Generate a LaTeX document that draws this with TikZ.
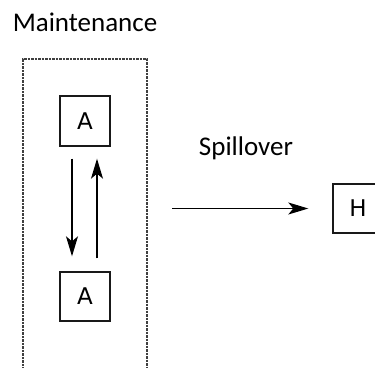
\documentclass[tikz,border=0pt]{standalone}
\usepackage{fontspec}
\setmainfont{Carlito}
\newfontfamily\boxfont{DejaVu Sans}
\usetikzlibrary{arrows.meta}
\begin{document}
\begin{tikzpicture}[x=1pt,y=-1pt,
  box/.style={draw=black!90,line width=1.4pt,minimum width=50pt,minimum height=50pt,inner sep=0pt,
    font=\boxfont\fontsize{23}{26}\selectfont},
  lbl/.style={font=\fontsize{27}{32}\selectfont,inner sep=0pt},
  arr/.style={line width=1.1pt,-{Stealth[length=20pt,width=12pt,inset=5pt]}},
  frame/.style={draw=black!75,line width=1.4pt,dash pattern=on 2.5pt off 1pt}]
\useasboundingbox (0,0) rectangle (375,367);
\clip (0,0) rectangle (375,367);
\node[lbl] (maint) at (85,22) {Maintenance};
\draw[frame] (23,380) -- (23,59) -- (147,59) -- (147,380);
\coordinate (frameR) at (147,208.5);
\node[box] (topA) at (85,121) {A};
\node[box,minimum height=49pt] (botA) at (85,296.5) {A};
\node[box,minimum height=49pt] (H) at (358,208.5) {H};
\node[lbl] (spill) at (246,148) {Spillover};
\draw[arr] ([xshift=-13pt,yshift=-12pt]topA.south) -- ([xshift=-13pt,yshift=15pt]botA.north);
\draw[arr] ([xshift=12pt,yshift=13pt]botA.north) -- ([xshift=12pt,yshift=-12pt]topA.south);
\draw[arr] ([xshift=25pt]frameR) -- ([xshift=-24pt]H.west);
\end{tikzpicture}
\end{document}
